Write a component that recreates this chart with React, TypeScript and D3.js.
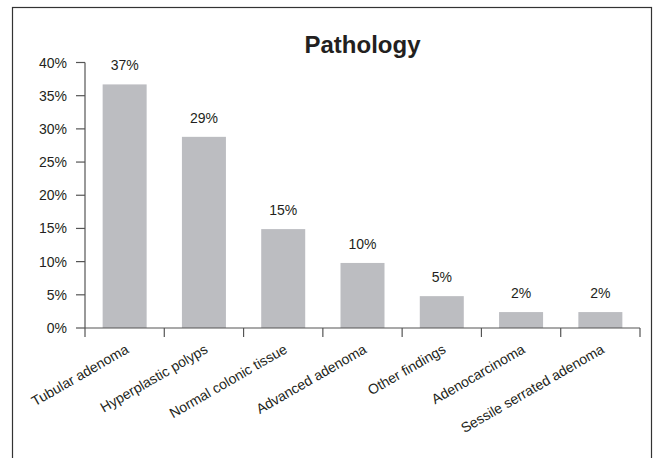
import React from "react";
import * as d3 from "d3";

const categories = [
  "Tubular adenoma",
  "Hyperplastic polyps",
  "Normal colonic tissue",
  "Advanced adenoma",
  "Other findings",
  "Adenocarcinoma",
  "Sessile serrated adenoma",
];
const values = [36.7, 28.8, 14.9, 9.8, 4.8, 2.4, 2.4];
const valueLabels = ["37%", "29%", "15%", "10%", "5%", "2%", "2%"];
const yTicks = [0, 5, 10, 15, 20, 25, 30, 35, 40];
const title = "Pathology";

const W = 655;
const H = 458;
const left = 85;
const right = 640;
const top = 62.5;
const bottom = 328;
const font = "'Liberation Sans', Arial, Helvetica, sans-serif";
const textColor = "#231f20";
const axisColor = "#555";

export default function App() {
  const y = d3.scaleLinear().domain([0, 40]).range([bottom, top]);
  const x = d3
    .scaleBand<string>()
    .domain(categories)
    .range([left, right])
    .paddingInner(0.445)
    .paddingOuter(0.2225);
  const step = x.step();
  const boundaries = categories.map((c) => (x(c) as number) - (step * 0.445) / 2);
  boundaries.push(right);

  return (
    <svg
      width={W}
      height={H}
      style={{ position: "absolute", left: 0, top: 0, background: "#fff" }}
      fontFamily={font}
    >
      <rect x={12.5} y={7.5} width={639} height={470} fill="none" stroke="#333" strokeWidth={1.2} />
      <text x={(left + right) / 2} y={53} textAnchor="middle" fontSize={24} fontWeight="bold" fill={textColor}>
        {title}
      </text>
      {/* bars */}
      {categories.map((c, i) => (
        <rect
          key={c}
          x={x(c)}
          y={y(values[i])}
          width={x.bandwidth()}
          height={bottom - y(values[i])}
          fill="#bcbdc1"
        />
      ))}
      {categories.map((c, i) => (
        <text
          key={c + "v"}
          x={(x(c) as number) + x.bandwidth() / 2}
          y={y(values[i]) - 14}
          textAnchor="middle"
          fontSize={14}
          fill={textColor}
        >
          {valueLabels[i]}
        </text>
      ))}
      {/* y axis */}
      <line x1={left} x2={left} y1={y(40)} y2={bottom} stroke={axisColor} strokeWidth={1.2} />
      {yTicks.map((t) => (
        <g key={t}>
          <line x1={left - 9} x2={left} y1={y(t)} y2={y(t)} stroke={axisColor} strokeWidth={1.2} />
          <text x={left - 18} y={y(t) + 5} textAnchor="end" fontSize={14} fill={textColor}>
            {t + "%"}
          </text>
        </g>
      ))}
      {/* x axis */}
      <line x1={left} x2={right} y1={bottom} y2={bottom} stroke={axisColor} strokeWidth={1.2} />
      {boundaries.map((b, i) => (
        <line key={i} x1={b} x2={b} y1={bottom} y2={bottom + 9} stroke={axisColor} strokeWidth={1.2} />
      ))}
      {categories.map((c) => {
        const cx = (x(c) as number) + x.bandwidth() / 2 + 5;
        const cy = bottom + 24;
        return (
          <text
            key={c + "l"}
            transform={`translate(${cx},${cy}) rotate(-30)`}
            textAnchor="end"
            fontSize={14}
            fill={textColor}
          >
            {c}
          </text>
        );
      })}
    </svg>
  );
}
